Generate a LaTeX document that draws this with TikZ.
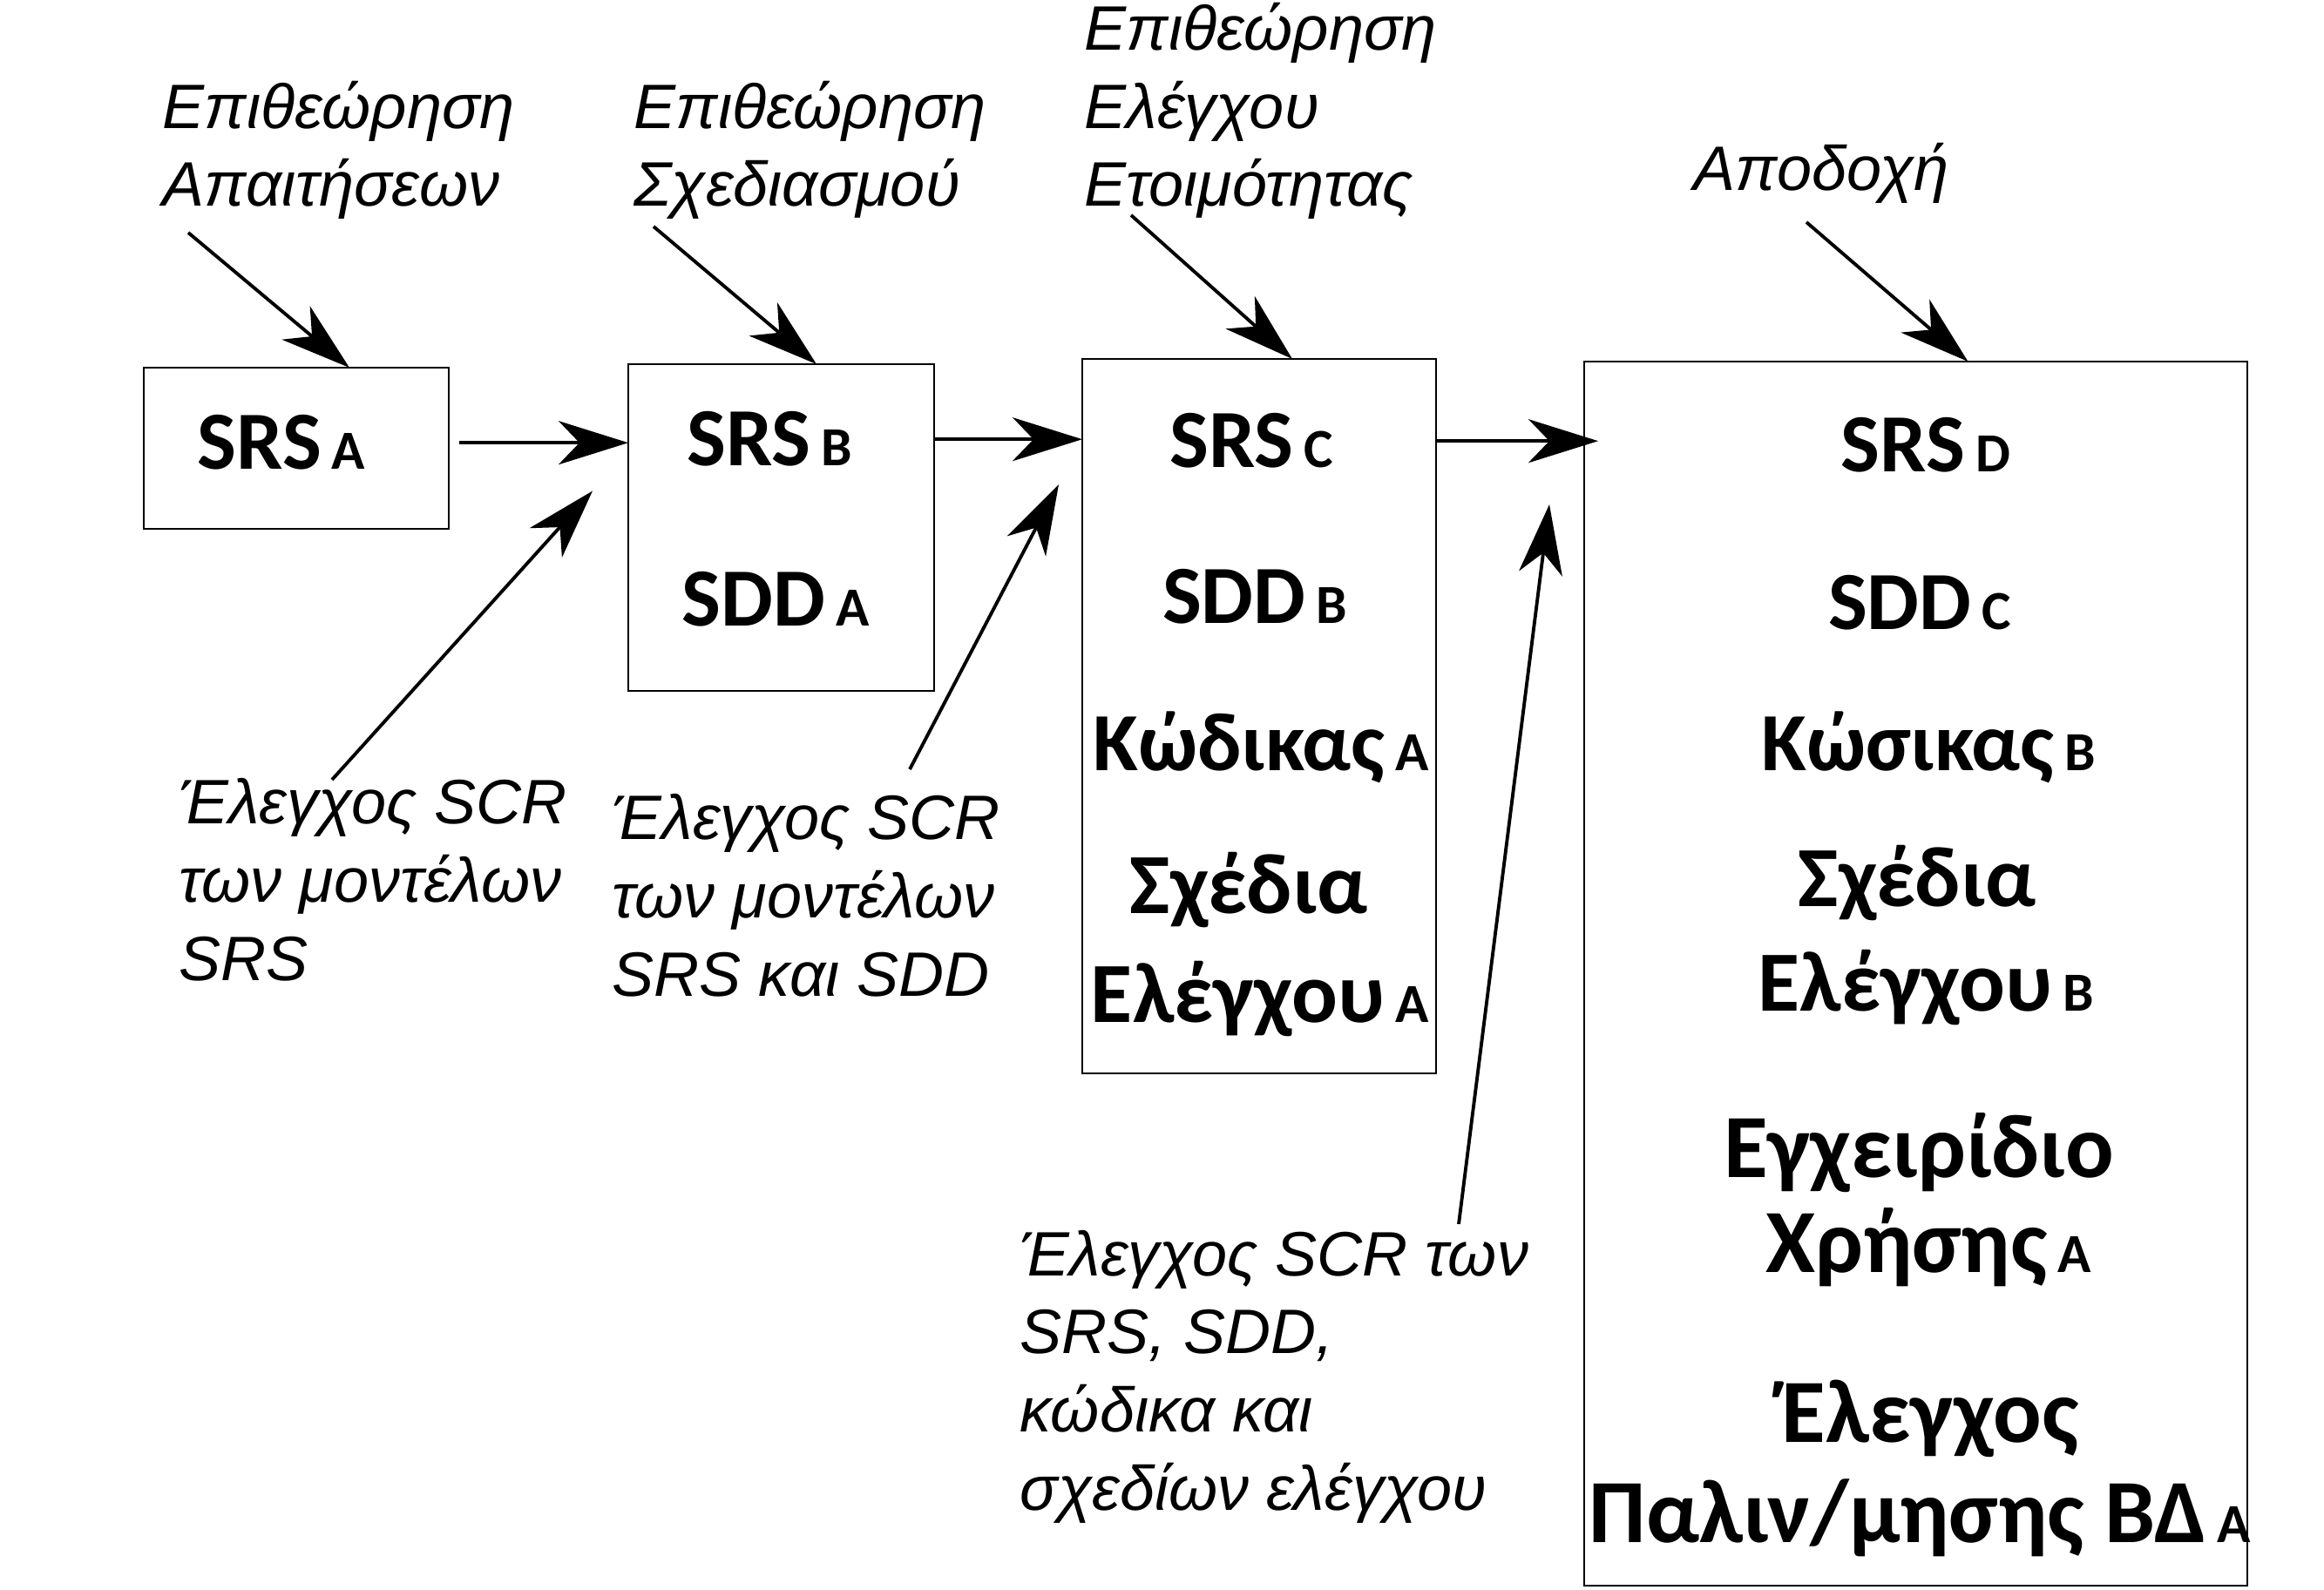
\documentclass[tikz,border=0pt]{standalone}
\usepackage{fontspec}
\setmainfont{Liberation Sans}
\newfontfamily\calibrifont{Carlito}
\usetikzlibrary{arrows.meta,positioning}

% small version letter after a document name
\newcommand{\ver}[1]{\hspace{0.12cm}{\fontsize{18}{18}\selectfont #1}}

\tikzset{
  frame/.style={draw, line width=0.6pt, inner sep=0pt, outer sep=0pt},
  doc/.style={font=\calibrifont\bfseries\fontsize{27}{30}\selectfont, anchor=base, inner sep=0pt},
  plandoc/.style={font=\calibrifont\bfseries\fontsize{28}{31}\selectfont, anchor=base, inner sep=0pt},
  bigdoc/.style={font=\calibrifont\bfseries\fontsize{29.5}{33}\selectfont, anchor=base, inner sep=0pt},
  review/.style={font=\itshape\fontsize{20.5}{25.5}\selectfont, align=left, anchor=base west, inner sep=0pt},
  flow/.style={-{Stealth[length=8mm,width=5mm,inset=2.4mm]}, line width=1.1pt},
}

\begin{document}
\begin{tikzpicture}[x=1cm,y=-1cm]
    \useasboundingbox (0,0) rectangle (26.67,18.25);

    % riquadri
    \node[frame, minimum width=3.50cm, minimum height=1.85cm] (boxA) at (3.400,5.145) {};
    \node[frame, minimum width=3.51cm, minimum height=3.75cm] (boxB) at (8.965,6.055) {};
    \node[frame, minimum width=4.06cm, minimum height=8.20cm] (boxC) at (14.450,8.220) {};
    \node[frame, minimum width=7.61cm, minimum height=14.05cm] (boxD) at (21.985,11.175) {};

    % contenuto
    \node[doc] (srsA) at (3.23,5.39) {SRS\ver{A}};

    \node[doc] (srsB) at (8.83,5.35) {SRS\ver{B}};
    \node[doc] (sddA) at (8.90,7.19) {SDD\ver{A}};

    \node[doc] (srsC) at (14.36,5.37) {SRS\ver{C}};
    \node[doc] (sddB) at (14.40,7.16) {SDD\ver{B}};
    \node[doc] (codeA) at (14.47,8.84) {Κώδικας\ver{A}};
    \node[plandoc] (planA1) at (14.33,10.48) {Σχέδια};
    \node[plandoc] (planA2) at (14.46,11.73) {Ελέγχου\ver{A}};

    \node[doc] (srsD) at (22.10,5.42) {SRS\ver{D}};
    \node[doc] (sddC) at (22.03,7.23) {SDD\ver{C}};
    \node[doc] (codeB) at (22.13,8.84) {Κώσικας\ver{B}};
    \node[plandoc] (planB1) at (22.00,10.40) {Σχέδια};
    \node[plandoc] (planB2) at (22.10,11.60) {Ελέγχου\ver{B}};
    \node[bigdoc] (manA1) at (22.02,13.51) {Εγχειρίδιο};
    \node[bigdoc] (manA2) at (22.13,14.60) {Χρήσης\ver{A}};
    \node[bigdoc] (regA1) at (22.15,16.55) {Έλεγχος};
    \node[bigdoc] (regA2) at (22.03,17.70) {Παλιν/μησης ΒΔ\ver{A}};

    % etichette (base = ultima riga)
    \node[review] (revReq) at (1.86,2.37) {Επιθεώρηση\\Απαιτήσεων};
    \node[review] (revDes) at (7.27,2.37) {Επιθεώρηση\\Σχεδιασμού};
    \node[review] (revRdy) at (12.44,2.37) {Επιθεώρηση\\Ελέγχου\\Ετοιμότητας};
    \node[review] (accept) at (19.43,2.19) {Αποδοχή};
    \node[review] (scrSrs) at (2.05,11.25) {Έλεγχος SCR\\των μοντέλων\\SRS};
    \node[review] (scrSdd) at (7.02,11.43) {Έλεγχος SCR\\των μοντέλων\\SRS και SDD};
    \node[review] (scrAll) at (11.70,17.33) {Έλεγχος SCR των\\SRS, SDD,\\κώδικα και\\σχεδίων ελέγχου};

    % frecce
    \coordinate (reqTail) at (2.16,2.67);
    \coordinate (desTail) at (7.50,2.60);
    \coordinate (rdyTail) at (12.98,2.47);
    \coordinate (accTail) at (20.73,2.55);
    \coordinate (srsTail) at (3.81,8.95);
    \coordinate (sddTail) at (10.44,8.83);
    \coordinate (allTail) at (16.74,14.05);

    \draw[flow] (reqTail) -- ([xshift=6.1mm]boxA.north);
    \draw[flow] (desTail) -- ([xshift=4.05mm]boxB.north);
    \draw[flow] (rdyTail) -- ([xshift=3.8mm]boxC.north);
    \draw[flow] (accTail) -- ([xshift=6mm]boxD.north);

    \draw[flow, shorten <=1.2mm] (boxA.east |- srsA) -- (boxB.west |- srsA);
    \draw[flow] (boxB.east |- srsB) -- (boxC.west |- srsB);
    \draw[flow, shorten >=-1.6mm] (boxC.east |- srsC) -- (boxD.west |- srsC);

    \draw[flow] (srsTail) -- ([xshift=-4.1mm,yshift=4.2mm]boxB.west);
    \draw[flow] (sddTail) -- ([xshift=-2.7mm,yshift=-14.4mm]boxC.north west);
    \draw[flow] (allTail) -- ([xshift=-4mm,yshift=-16.4mm]boxD.north west);
\end{tikzpicture}
\end{document}
